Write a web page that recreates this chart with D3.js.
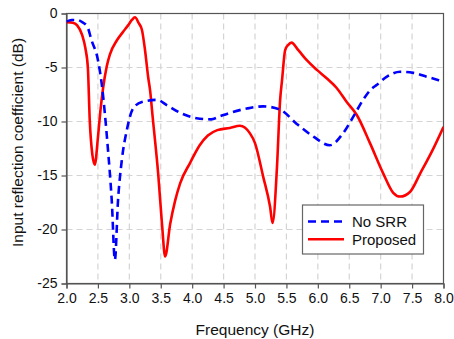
<!DOCTYPE html>
<html><head><meta charset="utf-8">
<script src="https://cdn.jsdelivr.net/npm/d3@7"></script>
<style>body{margin:0;background:#fff;}svg{display:block;font-family:"Liberation Sans",Arial,sans-serif;}</style>
</head><body><svg id="c" width="454" height="339"></svg>
<script>
const xTicks = [2.0,2.5,3.0,3.5,4.0,4.5,5.0,5.5,6.0,6.5,7.0,7.5,8.0];
const yTicks = [0,-5,-10,-15,-20,-25];
const seriesNames = ["No SRR","Proposed"];

const noSrrFreq = [2.0,2.08,2.17,2.25,2.33,2.4,2.5,2.56,2.66,2.72,2.77,2.82,2.88,2.96,3.06,3.2,3.44,3.6,3.81,4.07,4.3,4.45,4.6,4.87,5.13,5.4,5.66,5.93,6.19,6.4,6.56,6.72,6.85,6.94,7.1,7.31,7.52,7.73,8.0];
const noSrrDb   = [-0.75,-0.6,-0.6,-0.8,-1.2,-2.5,-4.3,-6.5,-12.6,-17.3,-22.8,-17.3,-13.6,-10.8,-8.8,-8.2,-8.0,-8.5,-9.2,-9.7,-9.8,-9.5,-9.2,-8.8,-8.6,-8.9,-10.2,-11.4,-12.2,-11.1,-9.6,-8.0,-7.0,-6.6,-5.85,-5.4,-5.5,-5.85,-6.3];

const propFreq = [2.0,2.1,2.17,2.25,2.3,2.34,2.37,2.41,2.45,2.5,2.54,2.58,2.64,2.69,2.8,2.9,2.98,3.04,3.09,3.15,3.2,3.25,3.3,3.33,3.37,3.46,3.52,3.57,3.65,3.73,3.81,3.97,4.12,4.25,4.4,4.6,4.76,4.92,5.0,5.13,5.24,5.28,5.35,5.4,5.43,5.48,5.53,5.58,5.69,5.82,5.98,6.14,6.3,6.46,6.62,6.83,7.04,7.2,7.31,7.47,7.63,7.83,8.0];
const propDb   = [-0.8,-0.85,-1.1,-2.0,-3.2,-5.0,-9.9,-13.0,-14.0,-11.5,-9.0,-7.0,-4.9,-3.8,-2.5,-1.7,-1.1,-0.6,-0.35,-0.9,-1.5,-3.4,-5.9,-7.1,-9.5,-14.9,-19.5,-22.5,-19.5,-17.3,-15.7,-13.8,-12.2,-11.3,-10.8,-10.6,-10.4,-11.1,-12.0,-15.1,-17.9,-19.4,-14.2,-8.0,-6.2,-3.4,-2.9,-2.7,-3.4,-4.3,-5.2,-6.0,-6.9,-8.2,-9.4,-12.0,-14.8,-16.6,-16.95,-16.5,-14.8,-12.6,-10.5];

const svg = d3.select("#c");
const L=66.5, R=443.5, T=13.5, B=283.5;
const x = d3.scaleLinear().domain([2,8]).range([L,R]);
const y = d3.scaleLinear().domain([-25,0]).range([B,T]);

// grid
const g = svg.append("g");
g.selectAll(".vg").data(xTicks.slice(1,-1)).enter().append("line")
  .attr("x1",d=>x(d)).attr("x2",d=>x(d)).attr("y1",T).attr("y2",B)
  .attr("stroke","#d4d4d4").attr("stroke-width",1.2).attr("stroke-dasharray","6,4");
g.selectAll(".hg").data(yTicks.slice(1,-1)).enter().append("line")
  .attr("x1",L).attr("x2",R).attr("y1",d=>y(d)).attr("y2",d=>y(d))
  .attr("stroke","#d4d4d4").attr("stroke-width",1.2).attr("stroke-dasharray","6,4");

// frame
svg.append("rect").attr("x",L).attr("y",T).attr("width",R-L).attr("height",B-T)
  .attr("fill","none").attr("stroke","#555").attr("stroke-width",1.2);

// axes
const xa = svg.append("g").attr("transform",`translate(0,${B})`)
  .call(d3.axisBottom(x).tickValues(xTicks).tickFormat(d3.format(".1f")).tickSize(5).tickPadding(5));
const ya = svg.append("g").attr("transform",`translate(${L},0)`)
  .call(d3.axisLeft(y).tickValues(yTicks).tickFormat(d=>d===0?"0":String(d).replace("−","-")).tickSize(5).tickPadding(4));
[xa,ya].forEach(a=>{
  a.select(".domain").attr("stroke","#555").attr("stroke-width",1.2);
  a.selectAll(".tick line").attr("stroke","#555").attr("stroke-width",1.2);
  a.selectAll("text").attr("font-size",14).attr("fill","#111").attr("font-family","'Liberation Sans',Arial,sans-serif");
});

// lines
const line = d3.line().x(d=>x(d[0])).y(d=>y(d[1])).curve(d3.curveMonotoneX);
const clip = svg.append("clipPath").attr("id","cp").append("rect").attr("x",L).attr("y",T-3).attr("width",R-L).attr("height",B-T+3);
svg.append("path").datum(propFreq.map((f,i)=>[f,propDb[i]])).attr("d",line)
  .attr("fill","none").attr("stroke","#ff0000").attr("stroke-width",2.6).attr("clip-path","url(#cp)");
svg.append("path").datum(noSrrFreq.map((f,i)=>[f,noSrrDb[i]])).attr("d",line)
  .attr("fill","none").attr("stroke","#0000ff").attr("stroke-width",2.6).attr("stroke-dasharray","8,5").attr("clip-path","url(#cp)");

// labels
svg.append("text").attr("x",(L+R)/2).attr("y",335).attr("text-anchor","middle")
  .attr("font-size",15.5).attr("fill","#111").text("Frequency (GHz)");
svg.append("text").attr("transform",`translate(23,142.5) rotate(-90)`).attr("text-anchor","middle")
  .attr("font-size",15.5).attr("fill","#111").text("Input reflection coefficient (dB)");

// legend
const lg = svg.append("g");
lg.append("rect").attr("x",302.5).attr("y",205).attr("width",121).attr("height",49)
  .attr("fill","#fff").attr("stroke","#666").attr("stroke-width",1.2);
const styles=[{c:"#0000ff",dash:"8,5"},{c:"#ff0000",dash:null}];
seriesNames.forEach((n,i)=>{
  const yy = 221.5 + i*17.8;
  const ln = lg.append("line").attr("x1",308).attr("x2",344).attr("y1",yy).attr("y2",yy)
    .attr("stroke",styles[i].c).attr("stroke-width",2.6);
  if(styles[i].dash) ln.attr("stroke-dasharray",styles[i].dash);
  lg.append("text").attr("x",352).attr("y",yy+5.5).attr("font-size",15).attr("fill","#111").text(n);
});
</script></body></html>
